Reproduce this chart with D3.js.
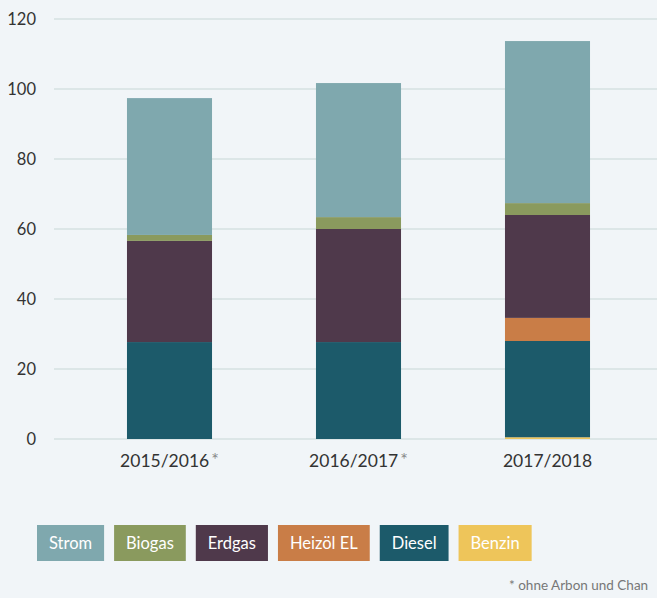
<!DOCTYPE html>
<html>
<head>
<meta charset="utf-8" />
<script src="https://d3js.org/d3.v7.min.js"></script>
<style>
  html, body { margin: 0; padding: 0; background: #f1f5f8; }
  svg { display: block; font-family: Lato, "Open Sans", sans-serif; }
</style>
</head>
<body>
<svg></svg>
<script>
// data
var years = ['2015/2016', '2016/2017', '2017/2018'];
var starred = [true, true, false];
var energy = ['Benzin', 'Diesel', 'Heizöl EL', 'Erdgas', 'Biogas', 'Strom'];
var legendOrder = ['Strom', 'Biogas', 'Erdgas', 'Heizöl EL', 'Diesel', 'Benzin'];
var benzin = [0, 0, 0.5];
var diesel = [27.7, 27.7, 27.5];
var heizoel = [0, 0, 6.6];
var erdgas = [28.9, 32.3, 29.4];
var biogas = [1.7, 3.4, 3.4];
var strom = [39.1, 38.3, 46.3];
var yTicks = [0, 20, 40, 60, 80, 100, 120];
var colors = {
  'Strom': '#7fa8ae', 'Biogas': '#8a9a5e', 'Erdgas': '#4f394b',
  'Heizöl EL': '#c97d47', 'Diesel': '#1c5a6a', 'Benzin': '#eec55a'
};
var footnote = '* ohne Arbon und Chan';

var W = 657, H = 598;
var svg = d3.select('svg').attr('width', W).attr('height', H);

var table = years.map(function (y, i) {
  return { year: y, 'Benzin': benzin[i], 'Diesel': diesel[i], 'Heizöl EL': heizoel[i],
    'Erdgas': erdgas[i], 'Biogas': biogas[i], 'Strom': strom[i] };
});

var x = d3.scaleBand().domain(years).range([75, 642]).paddingInner(0.55).paddingOuter(0.275);
var y = d3.scaleLinear().domain([0, 120]).range([439, 19]);

// grid
svg.append('g').selectAll('line').data(yTicks).enter().append('line')
  .attr('x1', 54).attr('x2', W)
  .attr('y1', function (d) { return y(d); }).attr('y2', function (d) { return y(d); })
  .attr('stroke', '#d5e0e2').attr('stroke-width', 1.5);

svg.append('g').selectAll('text').data(yTicks).enter().append('text')
  .attr('x', 36).attr('y', function (d) { return y(d); })
  .attr('dy', '0.35em').attr('text-anchor', 'end')
  .attr('font-size', 16.5).attr('fill', '#333')
  .text(function (d) { return d; });

// bars
var stack = d3.stack().keys(energy)(table);
svg.append('g').selectAll('g').data(stack).enter().append('g')
  .attr('fill', function (s) { return colors[s.key]; })
  .selectAll('rect').data(function (s) { return s; }).enter().append('rect')
  .attr('x', function (d) { return x(d.data.year); })
  .attr('width', x.bandwidth())
  .attr('y', function (d) { return y(d[1]); })
  .attr('height', function (d) { return y(d[0]) - y(d[1]); });

// x labels
var xl = svg.append('g').selectAll('text').data(years).enter().append('text')
  .attr('x', function (d) { return x(d) + x.bandwidth() / 2; })
  .attr('y', 467).attr('text-anchor', 'middle')
  .attr('font-size', 17.5).attr('fill', '#333');
xl.append('tspan').text(function (d) { return d; });
xl.append('tspan').attr('fill', '#888').attr('font-size', 18).attr('dx', 2).attr('dy', -1)
  .text(function (d, i) { return starred[i] ? '*' : ''; });

// legend
var lg = svg.append('g');
var lx = 37, padX = 12, gap = 10;
legendOrder.forEach(function (k) {
  var g = lg.append('g');
  var t = g.append('text').attr('y', 543).attr('dy', '0.35em')
    .attr('font-size', 16.5).attr('fill', '#fff').text(k);
  var tw = t.node().getComputedTextLength();
  g.insert('rect', 'text').attr('x', lx).attr('y', 525)
    .attr('width', tw + 2 * padX).attr('height', 36).attr('fill', colors[k]);
  t.attr('x', lx + padX);
  lx += tw + 2 * padX + gap;
});

svg.append('text').attr('x', 509).attr('y', 590)
  .attr('font-size', 13.5).attr('fill', '#777').text(footnote);
</script>
</body>
</html>
